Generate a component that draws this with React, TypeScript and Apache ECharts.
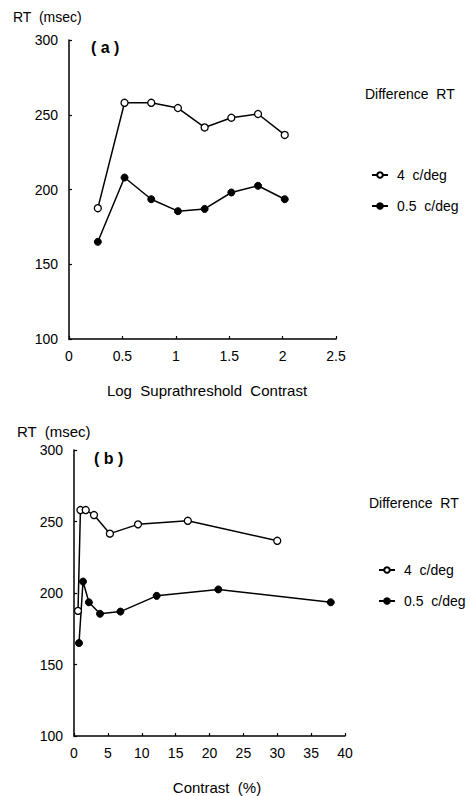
import React, { useEffect, useRef } from "react";
import * as echarts from "echarts";

const logContrast = [0.27, 0.52, 0.77, 1.02, 1.27, 1.52, 1.77, 2.02];
const contrast4 = [0.59, 0.95, 1.73, 2.95, 5.3, 9.45, 16.8, 30.0];
const contrast05 = [0.74, 1.33, 2.2, 3.84, 6.85, 12.2, 21.3, 37.9];
const rt4 = [187.5, 258, 258, 254.5, 241.5, 248, 250.5, 236.5];
const rt05 = [165, 208, 193.5, 185.5, 187, 198, 202.5, 193.5];
const seriesNames = ["4  c/deg", "0.5  c/deg"];
const xTicksA = [0, 0.5, 1, 1.5, 2, 2.5];
const xTicksB = [0, 5, 10, 15, 20, 25, 30, 35, 40];
const yTicks = [100, 150, 200, 250, 300];

const FONT = "'Liberation Sans', Arial, sans-serif";

export default function App() {
  const ref = useRef<HTMLDivElement>(null);
  useEffect(() => {
    if (!ref.current) return;
    const chart = echarts.init(ref.current, null, { renderer: "svg" });
    const axisLine = { show: true, lineStyle: { color: "#000", width: 1.5 } };
    const axisTick = { show: true, inside: true, length: 3, lineStyle: { color: "#000", width: 1.2 } };
    const xAxisCommon = (
      min: number,
      max: number,
      interval: number,
      name: string,
      gridIndex: number,
      shift: number
    ) => ({
      type: "value",
      gridIndex,
      min,
      max,
      interval,
      name,
      nameLocation: "middle",
      nameGap: 44,
      nameTextStyle: { color: "#000", fontSize: 15, fontFamily: FONT, padding: [0, 0, 0, shift] },
      axisLine,
      axisTick,
      splitLine: { show: false },
      axisLabel: { color: "#000", fontSize: 14, fontFamily: FONT, margin: 10 },
    });
    const yAxisCommon = (gridIndex: number) => ({
      type: "value",
      gridIndex,
      min: yTicks[0],
      max: yTicks[yTicks.length - 1],
      interval: yTicks[1] - yTicks[0],
      axisLine,
      axisTick,
      splitLine: { show: false },
      axisLabel: { color: "#000", fontSize: 14, fontFamily: FONT, margin: 11 },
    });
    const openStyle = {
      symbol: "circle",
      symbolSize: 7,
      itemStyle: { color: "#fff", borderColor: "#000", borderWidth: 1.3 },
      lineStyle: { color: "#000", width: 1.5 },
    };
    const filledStyle = {
      symbol: "circle",
      symbolSize: 7,
      itemStyle: { color: "#000", borderColor: "#000", borderWidth: 1 },
      lineStyle: { color: "#000", width: 1.5 },
    };
    const legendCommon = {
      orient: "vertical",
      data: seriesNames,
      itemWidth: 16,
      itemHeight: 7,
      itemGap: 17,
      textStyle: { color: "#000", fontSize: 14, fontFamily: FONT, padding: [0, 0, 0, 4] },
      selectedMode: false,
    };
    const txt = (x: number, y: number, text: string, size = 14, weight = "normal") => ({
      type: "text",
      x,
      y,
      style: {
        text,
        fill: "#000",
        font: `${weight} ${size}px ${FONT}`,
        textVerticalAlign: "middle",
        textAlign: "left",
      },
    });
    chart.setOption({
      animation: false,
      backgroundColor: "#fff",
      grid: [
        { left: 69, top: 40, width: 267, height: 299 },
        { left: 74, top: 450, width: 271, height: 296 },
      ],
      xAxis: [
        xAxisCommon(xTicksA[0], xTicksA[xTicksA.length - 1], 0.5, "Log  Suprathreshold  Contrast", 0, 9),
        xAxisCommon(xTicksB[0], xTicksB[xTicksB.length - 1], 5, "Contrast  (%)", 1, 15),
      ],
      yAxis: [yAxisCommon(0), yAxisCommon(1)],
      legend: [
        { ...legendCommon, left: 366, top: 163 },
        { ...legendCommon, left: 373, top: 558 },
      ],
      graphic: [
        txt(13, 17, "RT  (msec)"),
        txt(91, 47, "( a )", 16, "bold"),
        txt(365, 94, "Difference  RT"),
        txt(17, 431, "RT  (msec)", 15),
        txt(94, 458, "( b )", 16, "bold"),
        txt(369, 503, "Difference  RT"),
      ],
      series: [
        {
          type: "line",
          name: seriesNames[1],
          xAxisIndex: 0,
          yAxisIndex: 0,
          data: logContrast.map((x, i) => [x, rt05[i]]),
          ...filledStyle,
        },
        {
          type: "line",
          name: seriesNames[0],
          xAxisIndex: 0,
          yAxisIndex: 0,
          data: logContrast.map((x, i) => [x, rt4[i]]),
          ...openStyle,
        },
        {
          type: "line",
          name: seriesNames[1],
          xAxisIndex: 1,
          yAxisIndex: 1,
          data: contrast05.map((x, i) => [x, rt05[i]]),
          ...filledStyle,
        },
        {
          type: "line",
          name: seriesNames[0],
          xAxisIndex: 1,
          yAxisIndex: 1,
          data: contrast4.map((x, i) => [x, rt4[i]]),
          ...openStyle,
        },
      ],
    });
    return () => chart.dispose();
  }, []);
  return (
    <div
      ref={ref}
      style={{ position: "fixed", left: 0, top: 0, width: 470, height: 796, background: "#fff" }}
    />
  );
}
